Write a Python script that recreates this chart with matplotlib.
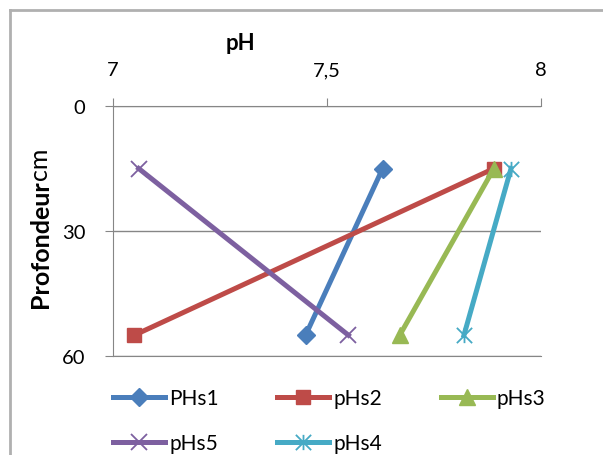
import matplotlib
matplotlib.use("Agg")
from matplotlib import pyplot as plt
from matplotlib.lines import Line2D
from matplotlib.path import Path

plt.rcParams['font.family'] = ['Lato', 'DejaVu Sans']

# profondeur (cm) des deux prélèvements
depth = [15, 55]

# pH par station
series_names = ["PHs1", "pHs2", "pHs3", "pHs5", "pHs4"]
ph_values = {
    "PHs1": [7.63, 7.45],
    "pHs2": [7.89, 7.05],
    "pHs3": [7.89, 7.67],
    "pHs5": [7.06, 7.55],
    "pHs4": [7.93, 7.82],
}

x_ticks = [7, 7.5, 8]
x_tick_labels = ["7", "7,5", "8"]
y_ticks = [0, 30, 60]

# marqueur étoile façon Excel (x + trait vertical)
star = Path([(0, -1), (0, 1), (-1, -1), (1, 1), (-1, 1), (1, -1)],
            [Path.MOVETO, Path.LINETO, Path.MOVETO, Path.LINETO, Path.MOVETO, Path.LINETO])

styles = {
    "PHs1": dict(color="#4A7EBB", marker="D", ms=9),
    "pHs2": dict(color="#BE4B48", marker="s", ms=10),
    "pHs3": dict(color="#98B954", marker="^", ms=11),
    "pHs5": dict(color="#7D60A0", marker="x", ms=11, mew=1.3),
    "pHs4": dict(color="#46AAC5", marker=star, ms=11, mew=1.3),
}

fig = plt.figure(figsize=(6.03, 4.56), dpi=100)
W, H = 603, 456

# cadre de la zone de graphique (coupé à droite et en bas)
border = "#B0B0B0"
fig.add_artist(Line2D([10 / W, 10 / W], [0, 1 - 11 / H], color=border, lw=2))
fig.add_artist(Line2D([10 / W, 1], [1 - 11 / H, 1 - 11 / H], color=border, lw=2))

ax = fig.add_axes([113 / W, 1 - 357 / H, 428 / W, 250 / H])

handles = {}
for name in series_names:
    st = styles[name]
    line, = ax.plot(ph_values[name], depth, color=st["color"], lw=3.6,
                    marker=st["marker"], ms=st["ms"], mew=st.get("mew", 1),
                    mec=st["color"], mfc=st["color"], label=name, clip_on=False)
    handles[name] = line

ax.set_xlim(7, 8)
ax.set_ylim(60, 0)
ax.set_xticks(x_ticks)
ax.set_xticklabels(x_tick_labels)
ax.set_yticks(y_ticks)
ax.xaxis.tick_top()

grey = "#868686"
ax.tick_params(axis="x", direction="out", length=6, color=grey, pad=14, labelsize=14.5)
ax.tick_params(axis="y", direction="out", length=6, color=grey, pad=14, labelsize=14.5)
ax.spines["right"].set_visible(False)
for side in ["top", "left", "bottom"]:
    ax.spines[side].set_color(grey)
ax.yaxis.grid(True, color=grey, lw=1)
ax.set_axisbelow(True)

# titres des axes
fig.text(240 / W, 1 - 43 / H, "pH", fontsize=16, fontweight="bold", ha="center", va="center")
fig.text(40 / W, 1 - 308 / H, "Profondeur", fontsize=18, fontweight="bold",
         rotation=90, ha="center", va="bottom")
fig.text(40 / W, 1 - 180 / H, "cm", fontsize=18, rotation=90, ha="center", va="bottom")

# légende remplie ligne par ligne
order = ["PHs1", "pHs5", "pHs2", "pHs4", "pHs3"]
fig.legend([handles[n] for n in order], order, ncol=3, frameon=False, fontsize=15,
           loc="upper left", bbox_to_anchor=(113 / W, 1 - 389 / H),
           handlelength=2.5, handletextpad=0.2, columnspacing=2.8, labelspacing=1.22,
           borderaxespad=0, borderpad=0)

fig.savefig("out.png", dpi=100)
